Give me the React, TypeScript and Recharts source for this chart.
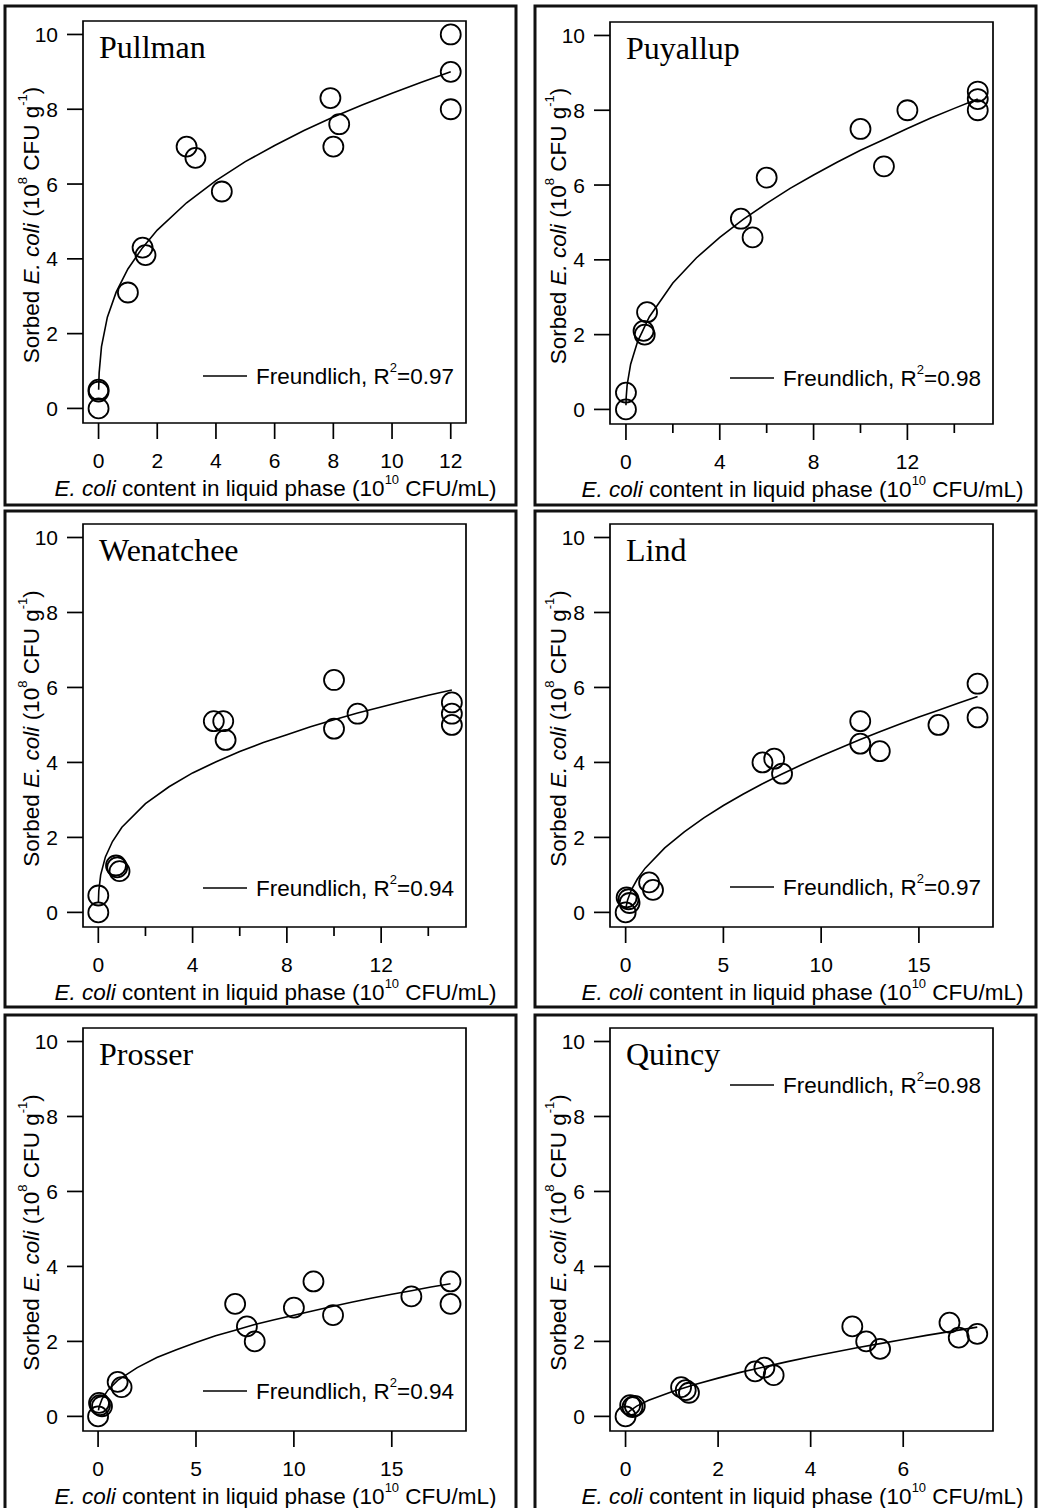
import React from 'react';
import { ScatterChart, Scatter, XAxis, YAxis, ReferenceArea } from 'recharts';

// ---------------- DATA ----------------
const Y_DOMAIN: [number, number] = [-0.39, 10.36];
const Y_TICKS = [0, 2, 4, 6, 8, 10];

// Pullman
const pullmanX = [0, 0, 0, 1.0, 1.5, 1.6, 3.0, 3.3, 4.2, 7.9, 8.0, 8.2, 12, 12, 12];
const pullmanY = [0, 0.45, 0.5, 3.1, 4.3, 4.1, 7.0, 6.7, 5.8, 8.3, 7.0, 7.6, 10.0, 9.0, 8.0];
const pullmanFitX = [0.003, 0.02, 0.1, 0.3, 0.6, 1, 1.5, 2, 3, 4, 5, 6, 7, 8, 9, 10, 11, 12];
const pullmanFitY = [0.5, 0.95, 1.65, 2.44, 3.11, 3.73, 4.3, 4.77, 5.5, 6.09, 6.6, 7.03, 7.43, 7.79, 8.12, 8.43, 8.72, 9.0];
const pullmanTicks = [0, 2, 4, 6, 8, 10, 12];
const pullmanLabels = [0, 2, 4, 6, 8, 10, 12];

// Puyallup
const puyallupX = [0, 0, 0.75, 0.8, 0.9, 4.9, 5.4, 6.0, 10.0, 11.0, 12.0, 15.0, 15.0, 15.0];
const puyallupY = [0, 0.45, 2.1, 2.0, 2.6, 5.1, 4.6, 6.2, 7.5, 6.5, 8.0, 8.5, 8.3, 8.0];
const puyallupFitX = [0.001, 0.01, 0.05, 0.2, 0.5, 1, 2, 3, 4, 5, 6, 7, 8, 9, 10, 11, 12, 13, 14, 15];
const puyallupFitY = [0.11, 0.32, 0.65, 1.21, 1.82, 2.48, 3.38, 4.05, 4.6, 5.08, 5.51, 5.91, 6.27, 6.61, 6.93, 7.22, 7.51, 7.79, 8.05, 8.3];
const puyallupTicks = [0, 2, 4, 6, 8, 10, 12, 14];
const puyallupLabels = [0, 4, 8, 12];

// Wenatchee
const wenatcheeX = [0, 0, 0.75, 0.8, 0.9, 4.9, 5.3, 5.4, 10.0, 10.0, 11.0, 15.0, 15.0, 15.0];
const wenatcheeY = [0, 0.45, 1.25, 1.2, 1.1, 5.1, 5.1, 4.6, 6.2, 4.9, 5.3, 5.6, 5.3, 5.0];
const wenatcheeFitX = [0.002, 0.02, 0.1, 0.3, 0.6, 1, 2, 3, 4, 5, 6, 7, 8, 9, 10, 11, 12, 13, 14, 15];
const wenatcheeFitY = [0.25, 0.57, 1.0, 1.48, 1.89, 2.27, 2.9, 3.35, 3.72, 4.02, 4.29, 4.53, 4.74, 4.95, 5.14, 5.32, 5.48, 5.64, 5.79, 5.93];
const wenatcheeTicks = [0, 2, 4, 6, 8, 10, 12, 14];
const wenatcheeLabels = [0, 4, 8, 12];

// Lind
const lindX = [0, 0.05, 0.15, 0.2, 1.2, 1.4, 7.0, 7.6, 8.0, 12.0, 12.0, 13.0, 16.0, 18.0, 18.0];
const lindY = [0, 0.4, 0.35, 0.25, 0.8, 0.6, 4.0, 4.1, 3.7, 5.1, 4.5, 4.3, 5.0, 6.1, 5.2];
const lindFitX = [0.02, 0.1, 0.3, 0.6, 1, 2, 3, 4, 5, 6, 7, 8, 9, 10, 11, 12, 13, 14, 15, 16, 17, 18];
const lindFitY = [0.14, 0.33, 0.61, 0.89, 1.18, 1.72, 2.15, 2.52, 2.85, 3.15, 3.43, 3.69, 3.94, 4.17, 4.39, 4.61, 4.82, 5.02, 5.21, 5.39, 5.58, 5.76];
const lindTicks = [0, 5, 10, 15];
const lindLabels = [0, 5, 10, 15];

// Prosser
const prosserX = [0, 0.05, 0.1, 0.2, 1.0, 1.2, 7.0, 7.6, 8.0, 10.0, 11.0, 12.0, 16.0, 18.0, 18.0];
const prosserY = [0, 0.36, 0.3, 0.27, 0.92, 0.78, 3.0, 2.4, 2.0, 2.9, 3.6, 2.7, 3.2, 3.6, 3.0];
const prosserFitX = [0.02, 0.05, 0.2, 0.5, 1, 2, 3, 4, 5, 6, 7, 8, 9, 10, 11, 12, 13, 14, 15, 16, 17, 18];
const prosserFitY = [0.16, 0.25, 0.46, 0.7, 0.96, 1.3, 1.57, 1.78, 1.97, 2.15, 2.3, 2.45, 2.58, 2.7, 2.82, 2.94, 3.05, 3.16, 3.26, 3.35, 3.45, 3.54];
const prosserTicks = [0, 5, 10, 15];
const prosserLabels = [0, 5, 10, 15];

// Quincy
const quincyX = [0, 0.1, 0.15, 0.2, 1.2, 1.3, 1.37, 2.8, 3.0, 3.2, 4.9, 5.2, 5.5, 7.0, 7.2, 7.6];
const quincyY = [0, 0.3, 0.25, 0.28, 0.78, 0.7, 0.63, 1.2, 1.3, 1.1, 2.4, 2.0, 1.8, 2.5, 2.1, 2.2];
const quincyFitX = [0.02, 0.1, 0.25, 0.5, 1, 1.5, 2, 2.5, 3, 3.5, 4, 4.5, 5, 5.5, 6, 6.5, 7, 7.6];
const quincyFitY = [0.06, 0.155, 0.28, 0.43, 0.66, 0.85, 1.02, 1.18, 1.32, 1.46, 1.59, 1.71, 1.83, 1.94, 2.05, 2.16, 2.26, 2.38];
const quincyTicks = [0, 2, 4, 6];
const quincyLabels = [0, 2, 4, 6];

const siteNames = ['Pullman', 'Puyallup', 'Wenatchee', 'Lind', 'Prosser', 'Quincy'];
const r2Values = ['0.97', '0.98', '0.94', '0.97', '0.94', '0.98'];

// ---------------- LAYOUT ----------------
const SANS = '"Liberation Sans", Arial, Helvetica, sans-serif';
const SERIF = '"Liberation Serif", "Times New Roman", serif';
const AXIS_W = 60;
const AXIS_H = 60;

type Panel = {
  name: string;
  r2: string;
  xs: number[]; ys: number[]; fx: number[]; fy: number[];
  ticks: number[]; labels: number[];
  xDomain: [number, number];
  chart: [number, number, number, number]; // left, top, width, height
  plot: [number, number, number, number]; // left, top, right, bottom
  frame: [number, number, number, number]; // x, y, w, h
  legendY: number;
};

const panels: Panel[] = [
  { name: siteNames[0], r2: r2Values[0], xs: pullmanX, ys: pullmanY, fx: pullmanFitX, fy: pullmanFitY, ticks: pullmanTicks, labels: pullmanLabels, xDomain: [-0.53, 12.52], chart: [0, 0, 519, 508], plot: [83, 21, 466, 423], frame: [5, 6, 511, 499], legendY: 376 },
  { name: siteNames[1], r2: r2Values[1], xs: puyallupX, ys: puyallupY, fx: puyallupFitX, fy: puyallupFitY, ticks: puyallupTicks, labels: puyallupLabels, xDomain: [-0.68, 15.65], chart: [519, 0, 520, 508], plot: [610, 22, 993, 424], frame: [535, 6, 501, 499], legendY: 378 },
  { name: siteNames[2], r2: r2Values[2], xs: wenatcheeX, ys: wenatcheeY, fx: wenatcheeFitX, fy: wenatcheeFitY, ticks: wenatcheeTicks, labels: wenatcheeLabels, xDomain: [-0.65, 15.6], chart: [0, 508, 519, 501], plot: [83, 524, 466, 927], frame: [5, 511, 511, 496], legendY: 888 },
  { name: siteNames[3], r2: r2Values[3], xs: lindX, ys: lindY, fx: lindFitX, fy: lindFitY, ticks: lindTicks, labels: lindLabels, xDomain: [-0.8, 18.79], chart: [519, 508, 520, 501], plot: [610, 524, 993, 927], frame: [535, 511, 501, 496], legendY: 887 },
  { name: siteNames[4], r2: r2Values[4], xs: prosserX, ys: prosserY, fx: prosserFitX, fy: prosserFitY, ticks: prosserTicks, labels: prosserLabels, xDomain: [-0.77, 18.79], chart: [0, 1009, 519, 499], plot: [83, 1028, 466, 1431], frame: [5, 1015, 511, 510], legendY: 1391 },
  { name: siteNames[5], r2: r2Values[5], xs: quincyX, ys: quincyY, fx: quincyFitX, fy: quincyFitY, ticks: quincyTicks, labels: quincyLabels, xDomain: [-0.336, 7.94], chart: [519, 1009, 520, 499], plot: [610, 1028, 993, 1431], frame: [535, 1015, 501, 510], legendY: 1085 },
];

const toPoints = (xs: number[], ys: number[]) => xs.map((x, i) => ({ x, y: ys[i] }));

const makeXTick = (labels: number[]) => (props: any) => {
  const { x, y, payload } = props;
  const major = labels.includes(payload.value);
  return (
    <g>
      <line x1={x} x2={x} y1={y} y2={y + (major ? 16 : 9)} stroke="#000" strokeWidth={1.7} />
      {major && (
        <text x={x} y={y + 45} textAnchor="middle" fontSize={21} fontFamily={SANS} fill="#000">
          {payload.value}
        </text>
      )}
    </g>
  );
};

const YTick = (props: any) => {
  const { x, y, payload } = props;
  return (
    <g>
      <line x1={x - 16} x2={x} y1={y} y2={y} stroke="#000" strokeWidth={1.7} />
      <text x={x - 25} y={y + 7.5} textAnchor="end" fontSize={21} fontFamily={SANS} fill="#000">
        {payload.value}
      </text>
    </g>
  );
};

const Circle = (p: any) => (
  <circle cx={p.cx} cy={p.cy} r={10} fill="none" stroke="#000" strokeWidth={1.8} />
);
const NoShape = () => <g />;

function PanelView({ p }: { p: Panel }) {
  const [cx, cy, cw, ch] = p.chart;
  const [pl, pt, pr, pb] = p.plot;
  const margin = { left: pl - cx - AXIS_W, right: cx + cw - pr, top: pt - cy, bottom: cy + ch - pb - AXIS_H };
  const pts = toPoints(p.xs, p.ys);
  const fit = toPoints(p.fx, p.fy);
  const midX = (pl + pr) / 2 - cx;
  const midY = (pt + pb) / 2 - cy;
  const [fx, fy, fw, fh] = p.frame;
  const ly = p.legendY - cy;
  return (
    <div style={{ position: 'absolute', left: cx, top: cy, width: cw, height: ch }}>
      <ScatterChart width={cw} height={ch} margin={margin}>
        <XAxis
          type="number"
          dataKey="x"
          domain={p.xDomain}
          allowDataOverflow
          ticks={p.ticks}
          interval={0}
          height={AXIS_H}
          axisLine={false}
          tickLine={false}
          tickSize={0}
          tickMargin={0}
          tick={makeXTick(p.labels)}
        />
        <YAxis
          type="number"
          dataKey="y"
          domain={Y_DOMAIN}
          allowDataOverflow
          ticks={Y_TICKS}
          interval={0}
          width={AXIS_W}
          axisLine={false}
          tickLine={false}
          tickSize={0}
          tickMargin={0}
          tick={YTick}
        />
        <ReferenceArea
          x1={p.xDomain[0]}
          x2={p.xDomain[1]}
          y1={Y_DOMAIN[0]}
          y2={Y_DOMAIN[1]}
          fill="none"
          fillOpacity={0}
          stroke="#000"
          strokeWidth={1.7}
          ifOverflow="visible"
        />
        <Scatter data={fit} line={{ stroke: '#000', strokeWidth: 1.6 }} lineType="joint" shape={NoShape} isAnimationActive={false} />
        <Scatter data={pts} shape={Circle} isAnimationActive={false} />
      </ScatterChart>
      <svg
        width={cw}
        height={ch}
        style={{ position: 'absolute', left: 0, top: 0, overflow: 'visible', pointerEvents: 'none' }}
      >
        <rect x={fx - cx} y={fy - cy} width={fw} height={fh} fill="none" stroke="#111" strokeWidth={3} />
        <text x={pl - cx + 16} y={pt - cy + 37} fontFamily={SERIF} fontSize={32} fill="#000">
          {p.name}
        </text>
        <line x1={pr - cx - 263} x2={pr - cx - 219} y1={ly} y2={ly} stroke="#000" strokeWidth={1.6} />
        <text x={pr - cx - 210} y={ly + 8} fontFamily={SANS} fontSize={22.5} fill="#000">
          Freundlich, R<tspan dy={-12} fontSize={13}>2</tspan>
          <tspan dy={12}>={p.r2}</tspan>
        </text>
        <text x={midX + 1} y={pb - cy + 73} textAnchor="middle" fontFamily={SANS} fontSize={22.5} fill="#000">
          <tspan fontStyle="italic">E. coli</tspan> content in liquid phase (10
          <tspan dy={-12} fontSize={13}>10</tspan>
          <tspan dy={12}> CFU/mL)</tspan>
        </text>
        <text
          transform={`translate(${pl - cx - 44}, ${midY + 3}) rotate(-90)`}
          textAnchor="middle"
          fontFamily={SANS}
          fontSize={22.5}
          fill="#000"
        >
          Sorbed <tspan fontStyle="italic">E. coli</tspan> (10
          <tspan dy={-12} fontSize={13}>8</tspan>
          <tspan dy={12}> CFU g</tspan>
          <tspan dy={-12} fontSize={13}>-1</tspan>
          <tspan dy={12}>)</tspan>
        </text>
      </svg>
    </div>
  );
}

export default function App() {
  return (
    <div style={{ position: 'absolute', left: 0, top: 0, width: 1039, height: 1508, background: '#fff', overflow: 'hidden' }}>
      {panels.map((p) => (
        <PanelView key={p.name} p={p} />
      ))}
    </div>
  );
}
